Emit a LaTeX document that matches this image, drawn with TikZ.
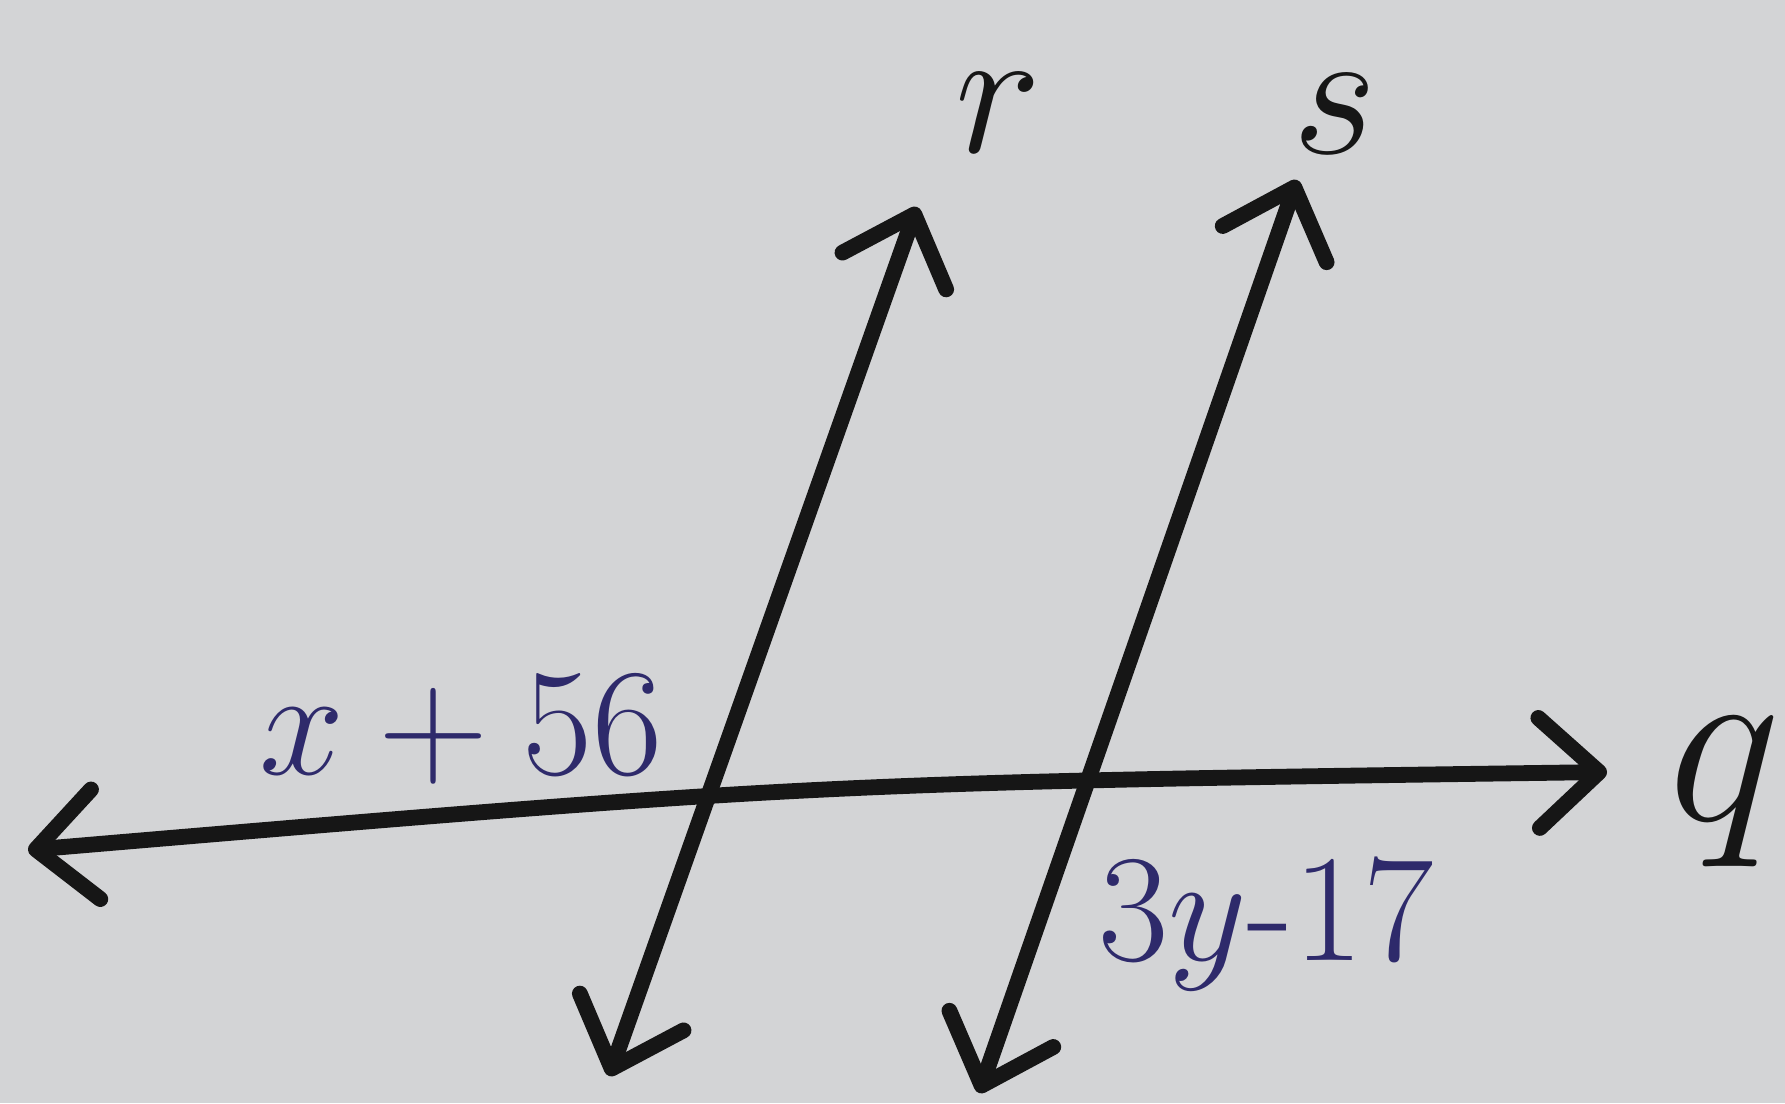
\documentclass[tikz,border=0pt]{standalone}
\usepackage{amsmath}
\usepackage{tikz}
\usetikzlibrary{arrows.meta}

\definecolor{paper}{HTML}{D3D4D6}
\definecolor{ink}{HTML}{161616}
\definecolor{pen}{HTML}{2E2A6B}

\tikzset{
    line/.style={ink, line width=4.5pt, line cap=round, <->,
        >={Straight Barb[length=6mm,width=11mm,round]}},
    linename/.style={ink, anchor=base, font=\Huge, scale=2.1},
    anglelabel/.style={pen, anchor=base, font=\Huge, scale=1.75}
}

\begin{document}
\begin{tikzpicture}[]
    \useasboundingbox (0,0) rectangle (17.85,11.03);
    \fill[paper] (0,0) rectangle (17.85,11.03);

    % ends of the lines
    \coordinate (qL) at (0.28,2.53);
    \coordinate (qR) at (16.07,3.31);
    \coordinate (rB) at (6.09,0.27);
    \coordinate (rT) at (9.17,8.96);
    \coordinate (sB) at (9.79,0.10);
    \coordinate (sT) at (12.97,9.23);

    % draw transversal q
    \draw[line] (qL) .. controls (8.18,3.20) .. (qR);

    % draw parallel lines r and s
    \draw[line] (rB) -- (rT);
    \draw[line] (sB) -- (sT);

    % line names
    \node[linename] (rname) at (9.98,9.50) {$r$};
    \node[linename] (sname) at (13.35,9.49) {$s$};
    \node[linename, scale=1.3] (qname) at (17.25,2.82) {$q$};

    % angle labels
    \node[anglelabel] (xangle) at (4.61,3.28) {$x+56$};
    \node[anglelabel] (yangle) at (12.66,1.43) {$3y$-17};
\end{tikzpicture}
\end{document}
